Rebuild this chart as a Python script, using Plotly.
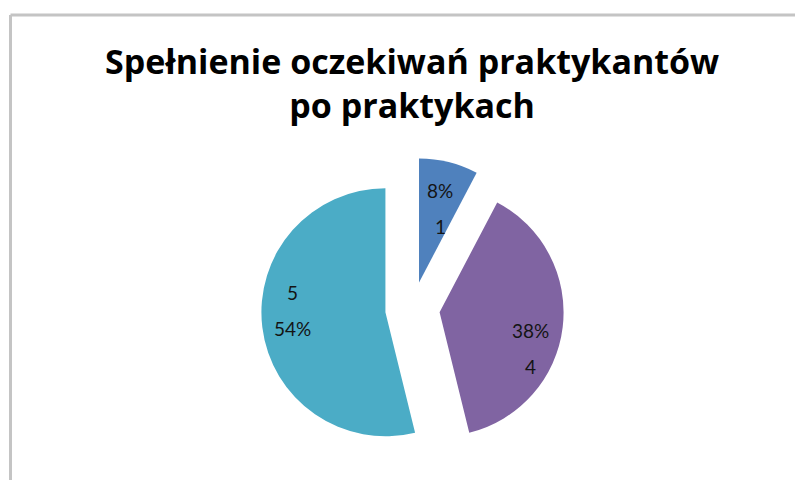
import math
import plotly.graph_objects as go

categories = ["1", "4", "5"]
counts = [1, 5, 7]
colors = ["#4F81BD", "#8064A2", "#4BACC6"]
title_text = "Spełnienie oczekiwań praktykantów<br>po praktykach"

# ---- layout / style settings (pixels inside the figure) ----
W, H = 795, 472
pull = 0.22
pie_cx, pie_cy, pie_r = 404.5, 301.0, 124.0   # unexploded centre and slice radius
half = pie_r * (1 + pull)
dom_x = [(pie_cx - half) / W, (pie_cx + half) / W]
dom_y = [1 - (pie_cy + half) / H, 1 - (pie_cy - half) / H]
label_rfrac = [0.62, 0.79, 0.75]     # radial placement of data labels (style)
label_dang = [2.0, 15.0, 8.0]        # angular nudge of data labels (style)
label_pct_first = [True, True, False]
line_gap = 18
label_font = dict(family="Lato, sans-serif", size=19, color="#141414")

fig = go.Figure(go.Pie(
    labels=categories,
    values=counts,
    sort=False,
    direction="clockwise",
    rotation=0,
    pull=[pull] * len(counts),
    marker=dict(colors=colors, line=dict(width=0)),
    textinfo="none",
    domain=dict(x=dom_x, y=dom_y),
    hoverinfo="label+percent",
    showlegend=False,
))

# data labels placed from the pie geometry (values -> angles)
cx = (dom_x[0] + dom_x[1]) / 2 * W
cy = (1 - (dom_y[0] + dom_y[1]) / 2) * H
r = min(W * (dom_x[1] - dom_x[0]) / 2, H * (dom_y[1] - dom_y[0]) / 2) / (1 + pull)
total = sum(counts)
cum = 0
annotations = []
for i, v in enumerate(counts):
    frac = v / total
    bis = (cum + frac / 2) * 360
    cum += frac
    scx = cx + pull * r * math.sin(math.radians(bis))
    scy = cy - pull * r * math.cos(math.radians(bis))
    a = bis + label_dang[i]
    lx = scx + label_rfrac[i] * r * math.sin(math.radians(a))
    ly = scy - label_rfrac[i] * r * math.cos(math.radians(a))
    pct_txt = f"{round(frac * 100)}%"
    lines = [pct_txt, categories[i]] if label_pct_first[i] else [categories[i], pct_txt]
    for j, t in enumerate(lines):
        yy = ly + (j - 0.5) * 2 * line_gap
        annotations.append(dict(
            text=t, x=lx / W, y=1 - yy / H, xref="paper", yref="paper",
            xanchor="center", yanchor="middle", showarrow=False, font=label_font,
        ))

annotations.append(dict(
    text="<b>" + title_text + "</b>", x=403.5 / W, y=1 - 28 / H,
    xref="paper", yref="paper", xanchor="center", yanchor="top", showarrow=False,
    font=dict(family="Open Sans, sans-serif", size=34, color="#000000"),
))

fig.update_layout(
    width=W, height=H,
    margin=dict(l=0, r=0, t=0, b=0),
    paper_bgcolor="white",
    plot_bgcolor="white",
    annotations=annotations,
    shapes=[
        dict(type="line", xref="paper", yref="paper", x0=2.5 / W, x1=1.0,
             y0=1 - 7 / H, y1=1 - 7 / H, line=dict(color="#C4C4C4", width=3)),
        dict(type="line", xref="paper", yref="paper", x0=2.5 / W, x1=2.5 / W,
             y0=0.0, y1=1 - 7 / H, line=dict(color="#C4C4C4", width=3)),
    ],
)

fig.write_html("out.html", config={"displayModeBar": False})
